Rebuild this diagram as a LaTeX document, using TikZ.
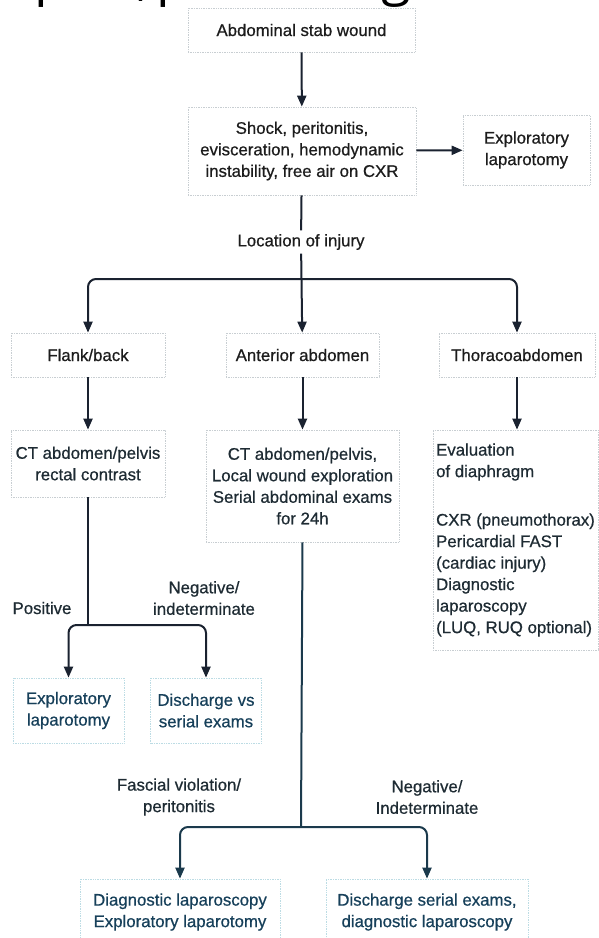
\documentclass[tikz,border=0pt]{standalone}
\usepackage{fontspec}
\setmainfont{Liberation Sans}[RawFeature={embolden=0.7}]
\newfontfamily\headfont{Open Sans}
\usetikzlibrary{arrows.meta}

\definecolor{inkA}{HTML}{1C1C1C}
\definecolor{inkB}{HTML}{1E2B33}
\definecolor{inkC}{HTML}{17405A}
\definecolor{lineA}{HTML}{1A2230}
\definecolor{lineB}{HTML}{1B3A4C}
\definecolor{frameA}{HTML}{C8CED2}
\definecolor{frameB}{HTML}{BCDCE4}

\tikzset{
  box/.style={draw=frameA, densely dotted, line width=0.7pt, inner sep=0pt,
    align=center, text=inkA, font=\fontsize{16.8}{21.5}\selectfont},
  lowbox/.style={box, draw=frameB, text=inkC},
  lbl/.style={inner sep=3.5pt, align=center, text=inkA,
    font=\fontsize{16.8}{21.5}\selectfont},
  tip/.tip={Triangle[length=11pt,width=9pt]},
  link/.style={line width=2pt, draw=lineA},
  flow/.style={link, -tip},
  fork/.style={link, tip-tip, rounded corners=8pt},
}

\begin{document}
\begin{tikzpicture}[x=1pt,y=-1pt]
\useasboundingbox (0,0) rectangle (598,938);

% descenders of the heading line above the chart
\begin{scope}
  \clip (0,0) rectangle (598,938);
  \begin{scope}[every node/.style={inner sep=0pt, anchor=base west,
      font=\headfont\fontsize{54}{56}\selectfont, text=black}]
    \node (h1) at (34,-6) {p};
    \node (h2) at (137,-6) {,};
    \node (h3) at (156,-6) {p};
    \node (h4) at (381,-6) {g};
  \end{scope}
\end{scope}

% first decisions
\node[box, minimum width=227, minimum height=44] (stab) at (301.5,30) {Abdominal stab wound};
\node[box, minimum width=228, minimum height=88] (shock) at (302,151)
  {Shock, peritonitis,\\evisceration, hemodynamic\\instability, free air on CXR};
\node[box, minimum width=127, minimum height=70] (exlap) at (526.5,150) {Exploratory\\laparotomy};
\node[lbl] (loc) at (301,242) {Location of injury};
\coordinate (split1) at (301,279);

% injury sites
\node[box, minimum width=154, minimum height=44] (flank) at (88,355) {Flank/back};
\node[box, minimum width=153, minimum height=44] (ant) at (302.5,355) {Anterior abdomen};
\node[box, minimum width=156, minimum height=44] (thor) at (517,355) {Thoracoabdomen};

% work-up per site
\node[box, text=inkB, minimum width=154, minimum height=67] (ctl) at (88,463.5)
  {CT abdomen/pelvis\\rectal contrast};
\node[box, text=inkB, minimum width=193, minimum height=112] (ctm) at (302.5,486)
  {CT abdomen/pelvis,\\Local wound exploration\\Serial abdominal exams\\for 24h};
\node[box, text=inkB, minimum width=165, minimum height=220, align=left] (diaph) at (515.5,540)
  {Evaluation\\of diaphragm\\[27pt]CXR (pneumothorax)\\Pericardial FAST\\(cardiac injury)\\Diagnostic\\laparoscopy\\(LUQ, RUQ optional)};

% flank/back outcomes
\coordinate (split2) at (88,625);
\node[lbl, text=inkB] (pos) at (42,608) {Positive};
\node[lbl, text=inkB] (neg1) at (204,598) {Negative/\\indeterminate};
\node[lowbox, minimum width=111, minimum height=65] (exl2) at (68.5,710.5) {Exploratory\\laparotomy};
\node[lowbox, minimum width=111, minimum height=65] (disc1) at (206,710.5) {Discharge vs\\serial exams};

% anterior abdomen outcomes
\coordinate (split3) at (301,827);
\node[lbl, text=inkB] (fasc) at (179,797) {Fascial violation/\\peritonitis};
\node[lbl, text=inkB] (neg2) at (427,797) {Negative/\\Indeterminate};
\node[lowbox, minimum width=200, minimum height=66] (diag) at (180,912)
  {Diagnostic laparoscopy\\Exploratory laparotomy};
\node[lowbox, minimum width=202, minimum height=66] (disc2) at (427,912)
  {Discharge serial exams,\\diagnostic laparoscopy};

% connectors
\draw[flow] (stab) -- (shock);
\draw[flow] (shock) -- (exlap);
\draw[link] (shock) -- (loc);
\draw[flow] (loc) -- (ant);
\draw[fork] (flank.north) |- (split1) -| (thor.north);

\draw[flow] (flank) -- (ctl);
\draw[flow] (ant) -- (ctm);
\draw[flow] (thor.south) -- (thor.south |- diaph.north);

\draw[link] (ctl.south) -- (split2);
\draw[fork] (exl2.north) |- (split2) -| (disc1.north);

\draw[link, draw=lineB] (ctm.south) -- (split3);
\draw[fork, draw=lineB] (diag.north) |- (split3) -| (disc2.north);
\end{tikzpicture}
\end{document}
